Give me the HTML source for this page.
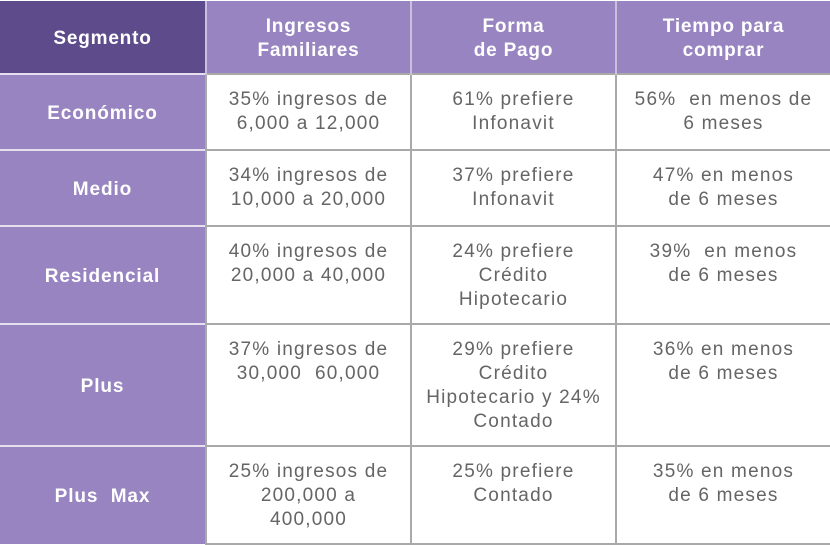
<!DOCTYPE html>
<html><head><meta charset="utf-8"><style>
body{margin:0;width:830px;height:543px;background:#fff;overflow:hidden;font-family:"Liberation Sans",sans-serif}
table{position:absolute;left:0;top:1px;border-collapse:collapse;width:830px;table-layout:fixed}
td,th{padding:0;text-align:center}
th{background:#9784c1;color:#fff;font-weight:bold;font-size:19px;letter-spacing:0.8px;line-height:24px;height:73px;box-sizing:border-box;padding-top:4px;border-left:2px solid #c9c0de;vertical-align:middle}
th.d{background:#5d4b8b;border-left:none}
td{font-size:19px;letter-spacing:1.2px;line-height:24px;color:#656565;vertical-align:top;padding-top:13px;border:2px solid #a9a9a9;box-sizing:border-box}
td.s{background:#9784c1;color:#fff;font-weight:bold;font-size:19px;letter-spacing:0.9px;vertical-align:middle;padding-top:3px;border:none;border-top:2px solid #e5e0ef}
tr td:last-child{border-right:none}
</style></head><body>
<table>
<colgroup><col style="width:206px"><col style="width:205px"><col style="width:205px"><col style="width:214px"></colgroup>
<tr><th class="d">Segmento</th><th>Ingresos<br>Familiares</th><th>Forma<br>de Pago</th><th>Tiempo para<br>comprar</th></tr>
<tr style="height:76px"><td class="s">Económico</td><td>35% ingresos de<br>6,000 a 12,000</td><td>61% prefiere<br>Infonavit</td><td>56%&nbsp; en menos de<br>6 meses</td></tr>
<tr style="height:76px"><td class="s">Medio</td><td>34% ingresos de<br>10,000 a 20,000</td><td>37% prefiere<br>Infonavit</td><td>47% en menos<br>de 6 meses</td></tr>
<tr style="height:98px"><td class="s">Residencial</td><td>40% ingresos de<br>20,000 a 40,000</td><td>24% prefiere<br>Crédito<br>Hipotecario</td><td>39%&nbsp; en menos<br>de 6 meses</td></tr>
<tr style="height:122px"><td class="s">Plus</td><td>37% ingresos de<br>30,000&nbsp; 60,000</td><td>29% prefiere<br>Crédito<br>Hipotecario y 24%<br>Contado</td><td>36% en menos<br>de 6 meses</td></tr>
<tr style="height:98px"><td class="s">Plus&nbsp; Max</td><td>25% ingresos de<br>200,000 a<br>400,000</td><td>25% prefiere<br>Contado</td><td>35% en menos<br>de 6 meses</td></tr>
</table>
</body></html>
